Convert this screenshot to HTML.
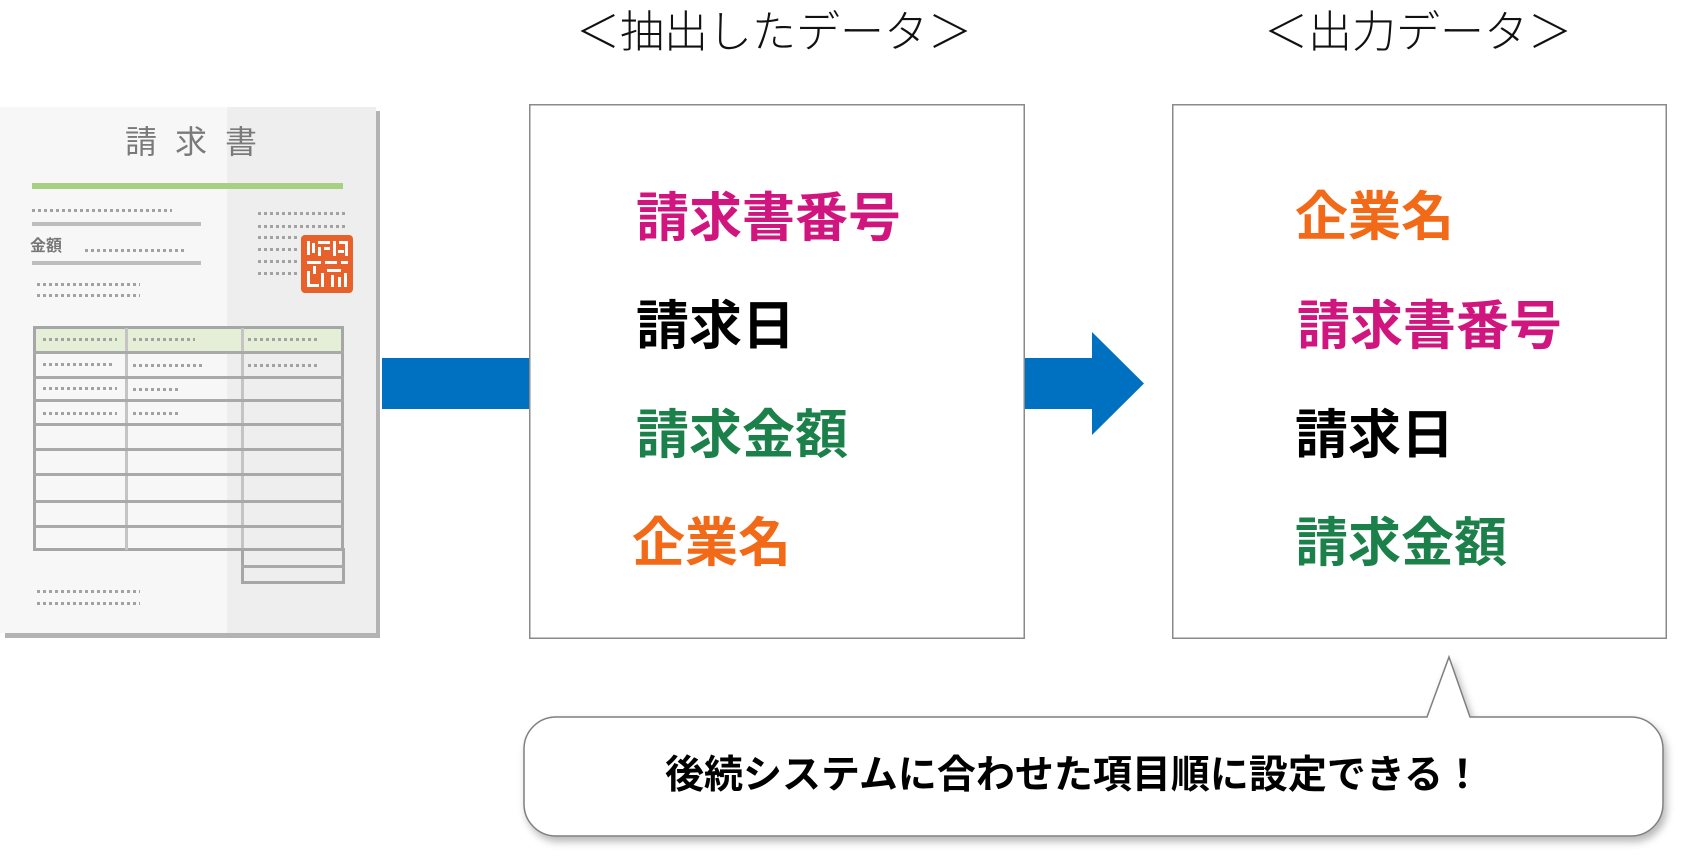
<!DOCTYPE html>
<html lang="ja">
<head>
<meta charset="utf-8">
<style>
  html,body{margin:0;padding:0;background:#fff;}
  body{width:1685px;height:858px;position:relative;overflow:hidden;
       font-family:"Liberation Sans","Noto Sans CJK JP",sans-serif;}
  .abs{position:absolute;}
  .dots{position:absolute;height:3px;
        background:repeating-linear-gradient(90deg,#a2a2a2 0 3px,transparent 3px 6px);}
  .bar{position:absolute;background:#bdbdbd;height:4px;}
  .hl{position:absolute;background:#a9a9a9;height:3px;}
  .vl{position:absolute;background:#c4c4c4;width:3px;}
  .item{position:absolute;font-weight:bold;font-size:53px;line-height:53px;white-space:nowrap;}
  .title{position:absolute;font-size:44px;line-height:44px;white-space:nowrap;text-align:center;color:#111;font-weight:300;}
</style>
</head>
<body>

<!-- ===== Invoice illustration ===== -->
<div class="abs" style="left:5px;top:111px;width:375px;height:527px;background:#b3b3b3;"></div>
<div class="abs" style="left:0;top:107px;width:376px;height:526px;background:linear-gradient(90deg,#f7f7f7 0,#f7f7f7 227px,#eeeeee 227px,#eeeeee 376px);"></div>

<div class="abs" style="left:125px;top:126px;font-size:32px;line-height:32px;letter-spacing:18px;color:#7a7a7a;white-space:nowrap;">請求書</div>
<div class="abs" style="left:32px;top:183px;width:311px;height:6px;background:#a8d083;"></div>

<div class="dots" style="left:32px;top:209px;width:140px;"></div>
<div class="bar" style="left:32px;top:222px;width:169px;"></div>
<div class="abs" style="left:30px;top:239px;font-size:16px;line-height:16px;font-weight:bold;color:#777;">金額</div>
<div class="dots" style="left:85px;top:249px;width:102px;"></div>
<div class="bar" style="left:32px;top:261px;width:169px;"></div>
<div class="dots" style="left:37px;top:283px;width:103px;"></div>
<div class="dots" style="left:37px;top:294px;width:103px;"></div>

<div class="dots" style="left:258px;top:212px;width:90px;"></div>
<div class="dots" style="left:258px;top:225px;width:90px;"></div>
<div class="dots" style="left:258px;top:236px;width:40px;"></div>
<div class="dots" style="left:258px;top:248px;width:40px;"></div>
<div class="dots" style="left:258px;top:260px;width:40px;"></div>
<div class="dots" style="left:258px;top:272px;width:40px;"></div>

<!-- stamp -->
<svg class="abs" style="left:301px;top:235px;" width="52" height="58" viewBox="0 0 52 58">
  <rect x="0" y="0" width="52" height="58" rx="4" fill="#e8612b"/>
  <g fill="#fff">
    <rect x="6" y="6" width="3" height="14"/><rect x="11" y="8" width="3" height="10"/>
    <rect x="17" y="6" width="12" height="3"/><rect x="17" y="12" width="3" height="9"/>
    <rect x="23" y="12" width="6" height="3"/><rect x="32" y="6" width="3" height="15"/>
    <rect x="38" y="6" width="9" height="3"/><rect x="44" y="9" width="3" height="12"/>
    <rect x="37" y="15" width="6" height="3"/>
    <rect x="6" y="26" width="14" height="3"/><rect x="24" y="26" width="12" height="3"/>
    <rect x="40" y="26" width="7" height="3"/><rect x="12" y="31" width="3" height="8"/>
    <rect x="6" y="36" width="3" height="16"/><rect x="6" y="49" width="12" height="3"/>
    <rect x="20" y="38" width="3" height="14"/><rect x="26" y="34" width="14" height="3"/>
    <rect x="30" y="40" width="3" height="12"/><rect x="37" y="42" width="3" height="10"/>
    <rect x="43" y="38" width="3" height="14"/>
  </g>
</svg>

<!-- table -->
<div class="abs" style="left:33px;top:326px;width:311px;height:26px;background:#e5efd8;"></div>
<div class="abs" style="left:33px;top:326px;width:305px;height:219px;border:3px solid #a6a6a6;"></div>
<div class="vl" style="left:125px;top:328px;height:222px;"></div>
<div class="vl" style="left:241px;top:328px;height:222px;"></div>
<div class="hl" style="left:33px;top:351px;width:311px;"></div>
<div class="hl" style="left:33px;top:376px;width:311px;"></div>
<div class="hl" style="left:33px;top:399px;width:311px;"></div>
<div class="hl" style="left:33px;top:423px;width:311px;"></div>
<div class="hl" style="left:33px;top:448px;width:311px;"></div>
<div class="hl" style="left:33px;top:473px;width:311px;"></div>
<div class="hl" style="left:33px;top:500px;width:311px;"></div>
<div class="hl" style="left:33px;top:525px;width:311px;"></div>
<div class="abs" style="left:241px;top:548px;width:98px;height:30px;border:3px solid #a6a6a6;"></div>
<div class="hl" style="left:241px;top:565px;width:104px;"></div>

<div class="dots" style="left:43px;top:338px;width:74px;"></div>
<div class="dots" style="left:133px;top:338px;width:62px;"></div>
<div class="dots" style="left:248px;top:338px;width:72px;"></div>
<div class="dots" style="left:43px;top:363px;width:69px;"></div>
<div class="dots" style="left:133px;top:364px;width:70px;"></div>
<div class="dots" style="left:248px;top:364px;width:72px;"></div>
<div class="dots" style="left:43px;top:387px;width:74px;"></div>
<div class="dots" style="left:133px;top:388px;width:45px;"></div>
<div class="dots" style="left:43px;top:412px;width:74px;"></div>
<div class="dots" style="left:133px;top:412px;width:45px;"></div>

<div class="dots" style="left:37px;top:590px;width:103px;"></div>
<div class="dots" style="left:37px;top:602px;width:103px;"></div>

<!-- ===== shapes ===== -->
<svg class="abs" style="left:0;top:0;" width="1685" height="858" viewBox="0 0 1685 858">
  <defs>
    <filter id="sh" x="-10%" y="-30%" width="120%" height="170%">
      <feDropShadow dx="3" dy="5" stdDeviation="4" flood-color="#000" flood-opacity="0.28"/>
    </filter>
  </defs>
  <rect x="382" y="358" width="148" height="51" fill="#0070c0"/>
  <rect x="529.75" y="104.75" width="494.5" height="533.5" fill="#fff" stroke="#8a8a8a" stroke-width="1.5"/>
  <rect x="1172.75" y="104.75" width="493.5" height="533.5" fill="#fff" stroke="#8a8a8a" stroke-width="1.5"/>
  <polygon points="1025,358 1092,358 1092,332 1144,383.5 1092,435 1092,409 1025,409" fill="#0070c0"/>
  <path d="M556 717 L1427 717 L1449 657 L1470 717 L1631 717 A32 32 0 0 1 1663 749 L1663 804 A32 32 0 0 1 1631 836 L556 836 A32 32 0 0 1 524 804 L524 749 A32 32 0 0 1 556 717 Z"
        fill="#fff" stroke="#7f7f7f" stroke-width="1.5" filter="url(#sh)"/>
</svg>

<!-- ===== titles ===== -->
<div class="title" style="left:574px;top:11px;width:400px;">＜抽出したデータ＞</div>
<div class="title" style="left:1264px;top:11px;width:308px;">＜出力データ＞</div>

<!-- ===== box 1 items ===== -->
<div class="item" style="left:636px;top:192px;color:#d0157f;">請求書番号</div>
<div class="item" style="left:636px;top:300px;color:#000;">請求日</div>
<div class="item" style="left:636px;top:409px;color:#1b8049;">請求金額</div>
<div class="item" style="left:632px;top:517px;color:#f26a18;">企業名</div>

<!-- ===== box 2 items ===== -->
<div class="item" style="left:1295px;top:191px;color:#f26a18;">企業名</div>
<div class="item" style="left:1297px;top:300px;color:#d0157f;">請求書番号</div>
<div class="item" style="left:1295px;top:409px;color:#000;">請求日</div>
<div class="item" style="left:1295px;top:517px;color:#1b8049;">請求金額</div>

<!-- ===== callout text ===== -->
<div class="abs" style="left:665px;top:756px;font-size:39px;line-height:39px;font-weight:bold;color:#000;white-space:nowrap;">後続システムに合わせた項目順に設定できる！</div>

</body>
</html>
